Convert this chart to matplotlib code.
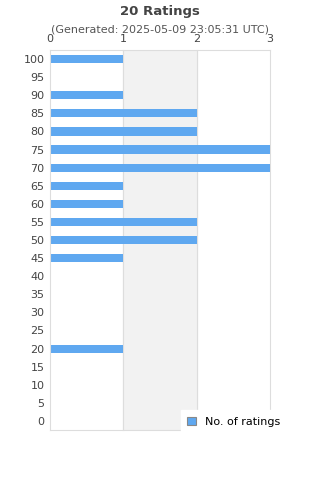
import matplotlib

matplotlib.use("Agg")
import matplotlib.pyplot as plt
from matplotlib.patches import Patch

scores = [0, 5, 10, 15, 20, 25, 30, 35, 40, 45, 50,
          55, 60, 65, 70, 75, 80, 85, 90, 95, 100]
counts = [0, 0, 0, 0, 1, 0, 0, 0, 0, 1, 2,
          2, 1, 1, 3, 3, 2, 2, 1, 0, 1]
x_ticks = [0, 1, 2, 3]

BAR_COLOR = "#5fa8f0"
TEXT_COLOR = "#444444"
GRID_COLOR = "#dddddd"

fig = plt.figure(figsize=(3.2, 4.8), dpi=100)
ax = fig.add_axes([50 / 320, 1 - 430 / 480, 220 / 320, 380 / 480])

pos = list(range(len(scores)))
ax.axvspan(1, 2, color="#f2f2f2", zorder=0)
for xt in x_ticks[1:]:
    ax.axvline(xt, color=GRID_COLOR, linewidth=0.8, zorder=1, clip_on=False)
ax.barh(pos, counts, height=0.45, color=BAR_COLOR, zorder=2)

ax.set_xlim(0, 3)
ax.set_ylim(-0.5, len(scores) - 0.5)
ax.set_yticks(pos)
ax.set_yticklabels([str(s) for s in scores])
ax.set_xticks(x_ticks)
ax.xaxis.tick_top()
ax.tick_params(axis="both", length=0, labelsize=8, colors=TEXT_COLOR, pad=4)
ax.tick_params(axis="x", pad=4.5)

ax.spines["right"].set_visible(False)
for side in ("top", "bottom", "left"):
    ax.spines[side].set_color(GRID_COLOR)
    ax.spines[side].set_linewidth(0.8)

fig.text(0.5, 1 - 11 / 480, "20 Ratings", ha="center", va="center",
         fontsize=9.5, fontweight="bold", color=TEXT_COLOR)
fig.text(0.5, 1 - 30 / 480, "(Generated: 2025-05-09 23:05:31 UTC)",
         ha="center", va="center", fontsize=8, color="#555555")

handle = Patch(facecolor=BAR_COLOR, edgecolor="#888888", linewidth=0.8)
leg = fig.legend([handle], ["No. of ratings"], loc="center",
                 bbox_to_anchor=(234 / 320, 1 - 422 / 480),
                 fontsize=8, frameon=True, fancybox=False,
                 handlelength=0.8, handleheight=0.8, borderpad=0.6)
leg.get_frame().set_edgecolor("white")
leg.get_frame().set_facecolor("white")
leg.get_frame().set_alpha(1)

fig.savefig("out.png", dpi=100)
